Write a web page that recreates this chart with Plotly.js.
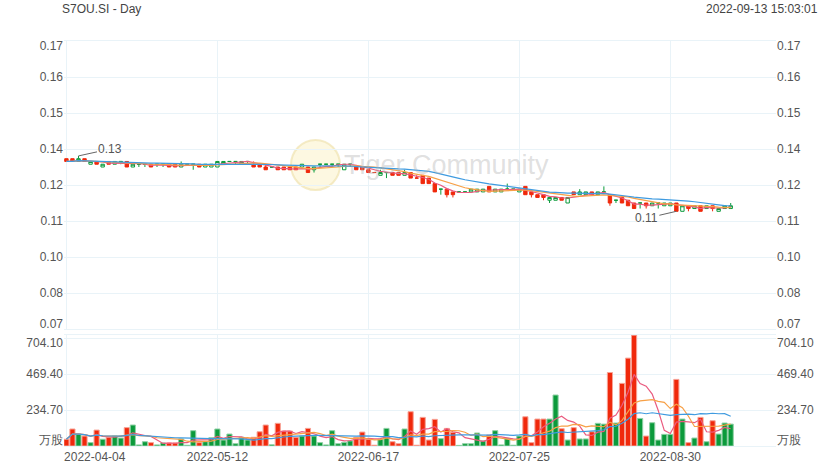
<!DOCTYPE html>
<html>
<head>
<meta charset="utf-8">
<script src="https://cdn.plot.ly/plotly-3.0.1.min.js"></script>
<style>html,body{margin:0;padding:0;background:#fff;}#chart{width:839px;height:469px;}</style>
</head>
<body>
<div id="chart"></div>
<script>
// ---- data ----
const dates = [
 '2022-04-04','2022-04-05','2022-04-06','2022-04-07','2022-04-08','2022-04-11','2022-04-12','2022-04-13','2022-04-14',
 '2022-04-18','2022-04-19','2022-04-20','2022-04-21','2022-04-22','2022-04-25','2022-04-26','2022-04-27','2022-04-28','2022-04-29',
 '2022-05-04','2022-05-05','2022-05-06','2022-05-09','2022-05-10','2022-05-11','2022-05-12','2022-05-13',
 '2022-05-17','2022-05-18','2022-05-19','2022-05-20','2022-05-23','2022-05-24','2022-05-25','2022-05-26','2022-05-27','2022-05-30','2022-05-31',
 '2022-06-01','2022-06-02','2022-06-03','2022-06-06','2022-06-07','2022-06-08','2022-06-09','2022-06-10','2022-06-13','2022-06-14','2022-06-15','2022-06-16','2022-06-17',
 '2022-06-20','2022-06-21','2022-06-22','2022-06-23','2022-06-24','2022-06-27','2022-06-28','2022-06-29','2022-06-30',
 '2022-07-01','2022-07-04','2022-07-05','2022-07-06','2022-07-07','2022-07-08','2022-07-12','2022-07-13','2022-07-14','2022-07-15',
 '2022-07-18','2022-07-19','2022-07-20','2022-07-21','2022-07-22','2022-07-25','2022-07-26','2022-07-27','2022-07-28','2022-07-29',
 '2022-08-01','2022-08-02','2022-08-03','2022-08-04','2022-08-05','2022-08-08','2022-08-10','2022-08-11','2022-08-12',
 '2022-08-15','2022-08-16','2022-08-17','2022-08-18','2022-08-19','2022-08-22','2022-08-23','2022-08-24','2022-08-25','2022-08-26',
 '2022-08-29','2022-08-30','2022-08-31','2022-09-01','2022-09-02','2022-09-05','2022-09-06','2022-09-07','2022-09-08','2022-09-09',
 '2022-09-12','2022-09-13'
];
const open = [
 0.132,0.132,0.131,0.132,0.130,0.131,0.129,0.131,0.130,0.131,
 0.131,0.129,0.130,0.130,0.130,0.130,0.130,0.130,0.130,0.129,
 0.130,0.130,0.130,0.129,0.129,0.129,0.130,0.131,0.131,0.130,
 0.131,0.130,0.130,0.129,0.129,0.129,0.129,0.129,0.129,0.129,
 0.129,0.128,0.130,0.130,0.130,0.130,0.128,0.130,0.129,0.129,
 0.128,0.127,0.126,0.127,0.127,0.127,0.126,0.127,0.125,0.126,
 0.125,0.123,0.121,0.121,0.120,0.120,0.120,0.120,0.120,0.120,
 0.122,0.120,0.120,0.121,0.121,0.120,0.122,0.120,0.119,0.119,
 0.117,0.117,0.118,0.116,0.120,0.119,0.119,0.120,0.119,0.120,
 0.119,0.117,0.118,0.117,0.116,0.116,0.116,0.115,0.116,0.115,
 0.115,0.116,0.113,0.115,0.114,0.115,0.114,0.115,0.113,0.114,
 0.114
];
const high = [
 0.132,0.132,0.133,0.132,0.131,0.131,0.130,0.131,0.131,0.131,
 0.131,0.130,0.130,0.130,0.130,0.130,0.130,0.130,0.130,0.131,
 0.130,0.130,0.130,0.130,0.130,0.131,0.131,0.131,0.131,0.131,
 0.131,0.131,0.130,0.130,0.129,0.129,0.129,0.129,0.129,0.130,
 0.129,0.129,0.130,0.130,0.130,0.130,0.130,0.130,0.129,0.129,
 0.128,0.127,0.128,0.127,0.127,0.127,0.128,0.127,0.126,0.126,
 0.125,0.123,0.121,0.121,0.120,0.120,0.120,0.121,0.121,0.121,
 0.122,0.121,0.121,0.123,0.121,0.121,0.122,0.120,0.119,0.119,
 0.118,0.118,0.118,0.118,0.120,0.121,0.120,0.120,0.120,0.122,
 0.119,0.117,0.118,0.117,0.116,0.116,0.116,0.116,0.116,0.116,
 0.116,0.116,0.115,0.115,0.115,0.115,0.115,0.115,0.114,0.115,
 0.116
];
const low = [
 0.131,0.131,0.131,0.131,0.130,0.130,0.129,0.130,0.130,0.130,
 0.129,0.129,0.129,0.129,0.129,0.129,0.129,0.129,0.129,0.129,
 0.130,0.128,0.129,0.129,0.129,0.129,0.130,0.131,0.130,0.130,
 0.130,0.129,0.129,0.128,0.129,0.128,0.128,0.128,0.128,0.129,
 0.127,0.127,0.129,0.130,0.129,0.129,0.128,0.129,0.128,0.128,
 0.127,0.127,0.126,0.125,0.126,0.126,0.126,0.125,0.125,0.123,
 0.123,0.120,0.119,0.118,0.118,0.120,0.120,0.120,0.120,0.120,
 0.120,0.120,0.120,0.121,0.121,0.120,0.119,0.118,0.118,0.117,
 0.116,0.117,0.117,0.116,0.119,0.119,0.119,0.119,0.119,0.120,
 0.115,0.116,0.116,0.115,0.114,0.114,0.114,0.115,0.114,0.115,
 0.115,0.113,0.113,0.113,0.114,0.113,0.114,0.113,0.113,0.114,
 0.114
];
const close = [
 0.131,0.131,0.132,0.131,0.131,0.130,0.130,0.130,0.131,0.131,
 0.129,0.130,0.130,0.130,0.129,0.130,0.130,0.129,0.129,0.130,
 0.130,0.130,0.129,0.130,0.130,0.131,0.131,0.131,0.131,0.131,
 0.131,0.129,0.129,0.128,0.129,0.128,0.128,0.128,0.128,0.130,
 0.127,0.129,0.130,0.130,0.130,0.130,0.130,0.130,0.128,0.128,
 0.127,0.127,0.127,0.127,0.126,0.126,0.127,0.125,0.125,0.123,
 0.123,0.120,0.121,0.119,0.119,0.120,0.120,0.121,0.121,0.121,
 0.120,0.121,0.121,0.121,0.121,0.121,0.119,0.119,0.118,0.118,
 0.118,0.118,0.117,0.118,0.119,0.120,0.120,0.119,0.120,0.120,
 0.116,0.117,0.116,0.115,0.114,0.116,0.115,0.116,0.116,0.116,
 0.116,0.113,0.115,0.114,0.115,0.113,0.115,0.114,0.114,0.115,
 0.115
];
const volume = [
 44,111,78,65,22,104,44,57,65,52,
 120,137,7,28,22,7,20,20,20,46,
 5,100,22,28,54,111,39,78,15,57,
 39,57,93,137,8,148,98,98,57,65,
 115,65,22,7,100,15,24,33,57,91,
 44,5,44,115,28,15,111,224,5,187,
 39,174,48,115,89,4,15,15,85,33,
 72,100,7,50,5,65,191,22,176,176,
 176,333,113,39,120,46,46,93,148,143,
 480,150,409,574,724,180,65,152,39,76,
 76,435,176,22,52,187,28,165,78,150,
 143
];
// axis ticks / labels
const tickDates = ['2022-04-04','2022-05-12','2022-06-17','2022-07-25','2022-08-30'];
const priceTickVals = [0.0705,0.0835,0.0965,0.1095,0.1225,0.1355,0.1485,0.1615,0.1745];
const priceTickText = ['0.07','0.08','0.10','0.11','0.12','0.14','0.15','0.16','0.17'];
const volTickVals = [0,234.7,469.4,704.1];
const volTickText = ['万股','234.70','469.40','704.10'];
const titleText = 'S7OU.SI - Day';
const stampText = '2022-09-13 15:03:01';
const watermarkText = 'Tiger Community';

// ---- styles ----
const RED = '#f0290c', GREEN = '#0b9a3b';
const RED_EDGE = '#f7a295', GREEN_EDGE = '#8fd0a5';
const C_MA5 = '#ea5b7f', C_MA10 = '#f7a046', C_MA20 = '#3f9be0';
const GRID = '#e9f3f8';
const TXT = '#555555';
const FONT = 'Liberation Sans, Arial, sans-serif';

// ---- derived ----
function sma(arr, n) {
  return arr.map((_, i) => {
    const s = Math.max(0, i - n + 1); let t = 0;
    for (let j = s; j <= i; j++) t += arr[j];
    return t / (i - s + 1);
  });
}
// direction as plotly candlestick decides it
let inc = true, cPrev = null;
const dir = close.map((c, i) => {
  const o = open[i];
  if (c === o) { if (cPrev !== null && c !== cPrev) inc = c > cPrev; }
  else inc = c > o;
  cPrev = c;
  return inc;
});
let iMax = 0, iMin = 0;
high.forEach((v, i) => { if (v > high[iMax]) iMax = i; });
low.forEach((v, i) => { if (v < low[iMin]) iMin = i; });

const pRange = [priceTickVals[0], priceTickVals[priceTickVals.length - 1]];
const vRange = [0, 725];
const pNudge = (pRange[1] - pRange[0]) / 288 * 5;
const vNudgeTop = (vRange[1] - vRange[0]) / 111 * 4.5;
const vNudgeBot = (vRange[1] - vRange[0]) / 111 * 6;
const pLabelVals = priceTickVals.map((v, i) => i === 0 ? v + pNudge : (i === priceTickVals.length - 1 ? v - pNudge : v));
const vLabelVals = volTickVals.map((v, i) => i === 0 ? v + vNudgeBot : (i === volTickVals.length - 1 ? v - vNudgeTop : v));
const pad = '\u00a0'.repeat(17);
const xTickText = tickDates.map((d, i) => i === 0 ? pad + d : d);

const traces = [
  {type: 'candlestick', x: dates, open: open, high: high, low: low, close: close,
   xaxis: 'x', yaxis: 'y', whiskerwidth: 0, hoverinfo: 'skip',
   increasing: {line: {color: GREEN, width: 1}, fillcolor: '#ffffff'},
   decreasing: {line: {color: RED, width: 1}, fillcolor: RED}},
  {type: 'scatter', mode: 'lines', x: dates, y: sma(close, 5), xaxis: 'x', yaxis: 'y', line: {color: C_MA5, width: 1.2}, hoverinfo: 'skip'},
  {type: 'scatter', mode: 'lines', x: dates, y: sma(close, 10), xaxis: 'x', yaxis: 'y', line: {color: C_MA10, width: 1.2}, hoverinfo: 'skip'},
  {type: 'scatter', mode: 'lines', x: dates, y: sma(close, 20), xaxis: 'x', yaxis: 'y', line: {color: C_MA20, width: 1.2}, hoverinfo: 'skip'},
  {type: 'bar', x: dates, y: volume, xaxis: 'x2', yaxis: 'y2', hoverinfo: 'skip',
   marker: {color: dir.map(d => d ? GREEN : RED), line: {color: dir.map(d => d ? GREEN_EDGE : RED_EDGE), width: 1}}},
  {type: 'scatter', mode: 'lines', x: dates, y: sma(volume, 5), xaxis: 'x2', yaxis: 'y2', line: {color: C_MA5, width: 1.2}, hoverinfo: 'skip'},
  {type: 'scatter', mode: 'lines', x: dates, y: sma(volume, 10), xaxis: 'x2', yaxis: 'y2', line: {color: C_MA10, width: 1.2}, hoverinfo: 'skip'},
  {type: 'scatter', mode: 'lines', x: dates, y: sma(volume, 20), xaxis: 'x2', yaxis: 'y2', line: {color: C_MA20, width: 1.2}, hoverinfo: 'skip'},
  // label-only axes
  {type: 'scatter', x: [], y: [], xaxis: 'x', yaxis: 'y3', hoverinfo: 'skip'},
  {type: 'scatter', x: [], y: [], xaxis: 'x', yaxis: 'y4', hoverinfo: 'skip'},
  {type: 'scatter', x: [], y: [], xaxis: 'x2', yaxis: 'y5', hoverinfo: 'skip'},
  {type: 'scatter', x: [], y: [], xaxis: 'x2', yaxis: 'y6', hoverinfo: 'skip'}
];

const pDom = [117 / 405, 1];
const vDom = [0, 111 / 405];
const xCommon = {type: 'category', categoryorder: 'array', categoryarray: dates,
  range: [-0.4, 117.5], autorange: false, tickvals: tickDates, ticktext: xTickText,
  showgrid: true, gridcolor: GRID, gridwidth: 1, zeroline: false,
  showline: true, linecolor: GRID, mirror: true, ticks: '', fixedrange: true};
const labelAx = (over, side, range, vals, text) => ({overlaying: over, side: side, range: range, autorange: false,
  tickvals: vals, ticktext: text, showgrid: false, zeroline: false, showline: false, ticks: '',
  tickfont: {size: 12, color: TXT}, fixedrange: true});

const layout = {
  width: 839, height: 469,
  margin: {l: 64, r: 63, t: 41, b: 23},
  paper_bgcolor: '#ffffff', plot_bgcolor: '#ffffff',
  showlegend: false, bargap: 0.15, boxgap: 0.2,
  font: {family: FONT, size: 12, color: TXT},
  title: {text: titleText, x: 62 / 839, xanchor: 'left', y: 1 - 9 / 469, yanchor: 'middle',
          font: {family: FONT, size: 12, color: '#444'}},
  xaxis: Object.assign({}, xCommon, {anchor: 'y', domain: [0, 1], showticklabels: false, rangeslider: {visible: false}}),
  xaxis2: Object.assign({}, xCommon, {anchor: 'y2', domain: [0, 1], showticklabels: true,
          tickfont: {size: 12, color: TXT}}),
  yaxis: {domain: pDom, range: pRange, autorange: false, tickvals: priceTickVals, showticklabels: false,
          showgrid: true, gridcolor: GRID, zeroline: false, ticks: '', fixedrange: true},
  yaxis2: {domain: vDom, range: vRange, autorange: false, tickvals: volTickVals, showticklabels: false,
          showgrid: true, gridcolor: GRID, zeroline: false, ticks: '', fixedrange: true},
  yaxis3: labelAx('y', 'left', pRange, pLabelVals, priceTickText),
  yaxis4: labelAx('y', 'right', pRange, pLabelVals, priceTickText),
  yaxis5: labelAx('y2', 'left', vRange, vLabelVals, volTickText),
  yaxis6: labelAx('y2', 'right', vRange, vLabelVals, volTickText),
  annotations: [
    {xref: 'paper', yref: 'paper', x: (820 - 64) / 712, y: (446 - 9) / 405, xanchor: 'right', yanchor: 'middle',
     text: stampText, showarrow: false, font: {size: 12, color: '#444'}},
    {xref: 'paper', yref: 'paper', x: (447 - 64) / 712, y: (446 - 165) / 405, xanchor: 'center', yanchor: 'middle',
     text: watermarkText, showarrow: false, font: {size: 27, color: 'rgba(175,175,175,0.4)'}},
    {xref: 'x', yref: 'y', x: dates[iMax], y: high[iMax], text: high[iMax].toFixed(2),
     showarrow: true, arrowhead: 0, arrowwidth: 1, arrowcolor: '#666', ax: 32, ay: -7,
     font: {size: 12, color: TXT}},
    {xref: 'x', yref: 'y', x: dates[iMin], y: low[iMin], text: low[iMin].toFixed(2),
     showarrow: true, arrowhead: 0, arrowwidth: 1, arrowcolor: '#666', ax: -30, ay: 7,
     font: {size: 12, color: TXT}}
  ],
  shapes: [
    {type: 'circle', xref: 'paper', yref: 'paper', layer: 'below',
     x0: (291 - 64) / 712, x1: (340 - 64) / 712, y0: (446 - 190) / 405, y1: (446 - 140) / 405,
     fillcolor: 'rgba(252,243,205,0.6)', line: {color: 'rgba(240,226,175,0.7)', width: 2}}
  ]
};

Plotly.newPlot('chart', traces, layout, {displayModeBar: false, staticPlot: true});
</script>
</body>
</html>
